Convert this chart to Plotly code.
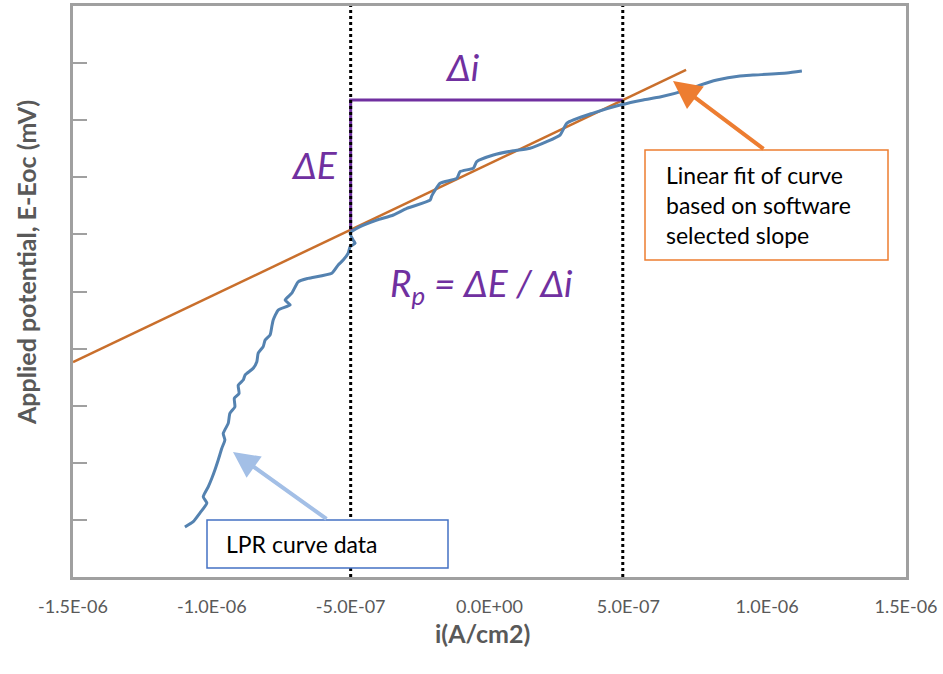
import plotly.graph_objects as go

# ---------------- data ----------------
x_tick_vals = [-1.5e-6, -1.0e-6, -5.0e-7, 0.0, 5.0e-7, 1.0e-6, 1.5e-6]
x_tick_text = ["-1.5E-06", "-1.0E-06", "-5.0E-07", "0.0E+00", "5.0E-07", "1.0E-06", "1.5E-06"]

# LPR curve (current in uA/cm2, potential in mV relative to Eoc)
lpr_i_uA = [-1.097, -1.067, -1.043, -1.018, -1.031, -1.013, -1.000, -0.989, -0.977, -0.964,
            -0.953, -0.959, -0.941, -0.935, -0.917, -0.919, -0.902, -0.905, -0.887, -0.880,
            -0.851, -0.838, -0.833, -0.815, -0.808, -0.790, -0.784, -0.779, -0.761, -0.718,
            -0.736, -0.712, -0.689, -0.653, -0.568, -0.545, -0.527, -0.509, -0.502, -0.484,
            -0.491, -0.502, -0.466, -0.406, -0.346, -0.298, -0.214, -0.208, -0.178, -0.118,
            -0.106, -0.058, -0.046, 0.014, 0.086, 0.146, 0.206, 0.254, 0.279, 0.373,
            0.470, 0.553, 0.614, 0.711, 0.758, 0.819, 0.902, 0.949, 1.071, 1.125]
lpr_E_mV = [-8.25, -8.06, -7.76, -7.41, -7.19, -6.84, -6.54, -6.25, -5.90, -5.49,
            -5.20, -4.97, -4.62, -4.27, -4.04, -3.74, -3.57, -3.28, -3.10, -2.92,
            -2.69, -2.46, -2.16, -1.93, -1.70, -1.52, -1.23, -1.00, -0.65, -0.47,
            -0.30, -0.06, 0.34, 0.46, 0.64, 0.93, 1.10, 1.34, 1.57, 1.69,
            1.80, 2.05, 2.27, 2.50, 2.68, 2.91, 3.20, 3.35, 3.79, 3.96,
            4.20, 4.32, 4.55, 4.78, 4.93, 5.02, 5.25, 5.48, 5.90, 6.25,
            6.53, 6.71, 6.81, 7.06, 7.23, 7.41, 7.55, 7.58, 7.65, 7.72]

# Linear fit line
fit_i_uA = [-1.5, 0.708]
fit_E_mV = [-2.47, 7.76]

# Delta-i window
di_left_uA = -0.50
di_right_uA = 0.48

# ---------------- derived ----------------
lpr_i = [v * 1e-6 for v in lpr_i_uA]
fit_i = [v * 1e-6 for v in fit_i_uA]
slope = (fit_E_mV[1] - fit_E_mV[0]) / (fit_i_uA[1] - fit_i_uA[0])


def fit_at(x_uA):
    return fit_E_mV[0] + slope * (x_uA - fit_i_uA[0])


E_low = fit_at(di_left_uA)
E_high = fit_at(di_right_uA)

PURPLE = "#7030A0"
GRAY = "#595959"
AXIS = "#A0A0A0"
FONT = "Lato"

fig = go.Figure()

fig.add_trace(go.Scatter(x=fit_i, y=fit_E_mV, mode="lines",
                         line=dict(color="#C96F2C", width=2.5), showlegend=False,
                         hoverinfo="skip"))
fig.add_trace(go.Scatter(x=lpr_i, y=lpr_E_mV, mode="lines",
                         line=dict(color="#5482B0", width=3, shape="spline", smoothing=0.5),
                         showlegend=False))
# Delta E / Delta i construction
fig.add_trace(go.Scatter(x=[di_left_uA * 1e-6, di_left_uA * 1e-6, di_right_uA * 1e-6],
                         y=[E_low, E_high, E_high], mode="lines",
                         line=dict(color=PURPLE, width=3), showlegend=False,
                         hoverinfo="skip"))

shapes = []
for xv in (di_left_uA, di_right_uA):
    shapes.append(dict(type="line", xref="x", yref="paper", x0=xv * 1e-6, x1=xv * 1e-6,
                       y0=0, y1=1, line=dict(color="black", width=3, dash="dot"),
                       layer="above"))


def px2paper_x(px):
    return (px - 73) / 833.0


def px2paper_y(py):
    return (577 - py) / 571.0


# boxes
shapes.append(dict(type="rect", xref="paper", yref="paper",
                   x0=px2paper_x(645), x1=px2paper_x(888), y0=px2paper_y(260), y1=px2paper_y(150),
                   line=dict(color="#ED7D31", width=1.5), fillcolor="white", layer="above"))
shapes.append(dict(type="rect", xref="paper", yref="paper",
                   x0=px2paper_x(207), x1=px2paper_x(448), y0=px2paper_y(568), y1=px2paper_y(520),
                   line=dict(color="#4472C4", width=1.5), fillcolor="white", layer="above"))

annotations = []
# arrows
annotations.append(dict(xref="paper", yref="paper", x=px2paper_x(673), y=px2paper_y(81),
                        ax=92, ay=69, text="", showarrow=True, arrowhead=2, arrowsize=1.4,
                        arrowwidth=4, arrowcolor="#ED7D31"))
annotations.append(dict(xref="paper", yref="paper", x=px2paper_x(233), y=px2paper_y(452),
                        ax=95, ay=68, text="", showarrow=True, arrowhead=2, arrowsize=1.3,
                        arrowwidth=4, arrowcolor="#A3BFE6"))

# box texts
for txt, py in (("Linear fit of curve", 175), ("based on software", 205), ("selected slope", 235)):
    annotations.append(dict(xref="paper", yref="paper", x=px2paper_x(664), y=px2paper_y(py),
                            xanchor="left", yanchor="middle", text=txt, showarrow=False,
                            font=dict(family=FONT, size=23, color="black")))
annotations.append(dict(xref="paper", yref="paper", x=px2paper_x(224), y=px2paper_y(544),
                        xanchor="left", yanchor="middle", text="LPR curve data", showarrow=False,
                        font=dict(family=FONT, size=23, color="black")))

# purple formula texts
pfont = dict(family=FONT, size=37, color=PURPLE, style="italic")
annotations.append(dict(xref="paper", yref="paper", x=px2paper_x(462), y=px2paper_y(42),
                        text="Δi", showarrow=False, font=pfont))
annotations.append(dict(xref="paper", yref="paper", x=px2paper_x(289), y=px2paper_y(140),
                        text="ΔE", showarrow=False, font=pfont))
annotations.append(dict(xref="paper", yref="paper", x=px2paper_x(481), y=px2paper_y(286),
                        text="R<sub>p</sub> = ΔE / Δi", showarrow=False, font=pfont))

# axis titles
annotations.append(dict(xref="paper", yref="paper", x=px2paper_x(26), y=px2paper_y(263),
                        text="<b>Applied potential, E-Eoc (mV)</b>", textangle=-90,
                        showarrow=False, xanchor="center", yanchor="middle",
                        font=dict(family=FONT, size=25, color=GRAY)))
annotations.append(dict(xref="paper", yref="paper", x=px2paper_x(482), y=px2paper_y(633),
                        text="<b>i(A/cm2)</b>", showarrow=False, xanchor="center", yanchor="middle",
                        font=dict(family=FONT, size=25, color=GRAY)))

fig.update_layout(
    width=943, height=674,
    margin=dict(l=73, r=37, t=6, b=97, autoexpand=False),
    paper_bgcolor="white", plot_bgcolor="white",
    shapes=shapes, annotations=annotations,
    showlegend=False,
    xaxis=dict(range=[-1.5e-6, 1.5e-6], tickmode="array", tickvals=x_tick_vals,
               ticktext=x_tick_text, showgrid=False, zeroline=False, showline=True,
               linecolor=AXIS, linewidth=2.5, mirror=True, ticks="",
               ticklabelstandoff=12,
               tickfont=dict(family=FONT, size=18, color=GRAY)),
    yaxis=dict(range=[-10, 10], tickmode="linear", tick0=-10, dtick=2, showgrid=False,
               zeroline=False, showline=True, linecolor=AXIS, linewidth=2.5, mirror=True,
               ticks="inside", ticklen=14, tickwidth=2, tickcolor=AXIS,
               showticklabels=False),
)

fig.write_html("out.html", config={"displayModeBar": False},
               post_script="document.body.style.margin='0';")
